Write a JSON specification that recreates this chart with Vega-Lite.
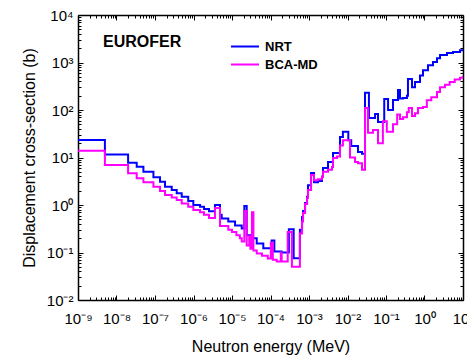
{
  "$schema": "https://vega.github.io/schema/vega-lite/v6.json",
  "width": 385,
  "height": 285,
  "autosize": {"type": "none"},
  "padding": {"left": 78, "top": 15, "right": 4, "bottom": 57},
  "config": {
    "font": "Liberation Sans",
    "view": {"stroke": null},
    "axis": {
      "grid": false,
      "domainColor": "black",
      "domainWidth": 1.5,
      "tickColor": "black",
      "tickWidth": 1,
      "labelColor": "black",
      "labelFont": "Liberation Sans",
      "labelFontSize": 15,
      "titleFont": "Liberation Sans",
      "titleFontSize": 16,
      "titleFontWeight": "normal",
      "titleColor": "black",
      "labelOverlap": false,
      "labelFlush": false
    }
  },
  "title": {
    "text": "EUROFER",
    "anchor": "start",
    "frame": "group",
    "orient": "top",
    "offset": 0,
    "baseline": "alphabetic",
    "dx": 25,
    "dy": 55,
    "font": "Liberation Sans",
    "fontSize": 16,
    "fontWeight": "bold",
    "color": "black"
  },
  "data": {
    "values": [
      {"E": 1e-9, "s": 23.4, "c": "NRT"},
      {"E": 5e-9, "s": 11.5, "c": "NRT"},
      {"E": 2e-8, "s": 7.8, "c": "NRT"},
      {"E": 3.35e-8, "s": 6.4, "c": "NRT"},
      {"E": 5e-8, "s": 5.0, "c": "NRT"},
      {"E": 9.1e-8, "s": 3.83, "c": "NRT"},
      {"E": 1.35e-7, "s": 3.1, "c": "NRT"},
      {"E": 1.82e-7, "s": 2.43, "c": "NRT"},
      {"E": 2.72e-7, "s": 2.07, "c": "NRT"},
      {"E": 3.66e-7, "s": 1.76, "c": "NRT"},
      {"E": 4.94e-7, "s": 1.5, "c": "NRT"},
      {"E": 7.3e-7, "s": 1.21, "c": "NRT"},
      {"E": 9.9e-7, "s": 1.0, "c": "NRT"},
      {"E": 1.48e-6, "s": 0.92, "c": "NRT"},
      {"E": 1.87e-6, "s": 0.82, "c": "NRT"},
      {"E": 2.53e-6, "s": 0.74, "c": "NRT"},
      {"E": 3.61e-6, "s": 1.0, "c": "NRT"},
      {"E": 4.88e-6, "s": 0.62, "c": "NRT"},
      {"E": 5.4e-6, "s": 0.52, "c": "NRT"},
      {"E": 8.0e-6, "s": 0.45, "c": "NRT"},
      {"E": 1.2e-5, "s": 0.37, "c": "NRT"},
      {"E": 1.79e-5, "s": 0.32, "c": "NRT"},
      {"E": 2.09e-5, "s": 0.95, "c": "NRT"},
      {"E": 2.41e-5, "s": 0.23, "c": "NRT"},
      {"E": 3.25e-5, "s": 0.2, "c": "NRT"},
      {"E": 4.39e-5, "s": 0.155, "c": "NRT"},
      {"E": 6.5e-5, "s": 0.123, "c": "NRT"},
      {"E": 1.07e-4, "s": 0.18, "c": "NRT"},
      {"E": 1.26e-4, "s": 0.105, "c": "NRT"},
      {"E": 1.95e-4, "s": 0.1, "c": "NRT"},
      {"E": 3.0e-4, "s": 0.31, "c": "NRT"},
      {"E": 4.0e-4, "s": 0.076, "c": "NRT"},
      {"E": 5.8e-4, "s": 0.3, "c": "NRT"},
      {"E": 6.6e-4, "s": 0.56, "c": "NRT"},
      {"E": 7.0e-4, "s": 0.75, "c": "NRT"},
      {"E": 7.9e-4, "s": 1.1, "c": "NRT"},
      {"E": 8.9e-4, "s": 1.5, "c": "NRT"},
      {"E": 9.4e-4, "s": 2.6, "c": "NRT"},
      {"E": 1.13e-3, "s": 4.7, "c": "NRT"},
      {"E": 1.35e-3, "s": 3.0, "c": "NRT"},
      {"E": 1.71e-3, "s": 3.2, "c": "NRT"},
      {"E": 2.18e-3, "s": 4.0, "c": "NRT"},
      {"E": 2.31e-3, "s": 6.0, "c": "NRT"},
      {"E": 3.12e-3, "s": 8.0, "c": "NRT"},
      {"E": 4.2e-3, "s": 12.4, "c": "NRT"},
      {"E": 6.38e-3, "s": 27, "c": "NRT"},
      {"E": 7.6e-3, "s": 35, "c": "NRT"},
      {"E": 1.05e-2, "s": 23, "c": "NRT"},
      {"E": 1.25e-2, "s": 17.5, "c": "NRT"},
      {"E": 1.87e-2, "s": 13, "c": "NRT"},
      {"E": 2.38e-2, "s": 12, "c": "NRT"},
      {"E": 2.85e-2, "s": 231, "c": "NRT"},
      {"E": 3.6e-2, "s": 68, "c": "NRT"},
      {"E": 5.2e-2, "s": 82, "c": "NRT"},
      {"E": 6.2e-2, "s": 56, "c": "NRT"},
      {"E": 9.0e-2, "s": 170, "c": "NRT"},
      {"E": 0.113, "s": 100, "c": "NRT"},
      {"E": 0.152, "s": 163, "c": "NRT"},
      {"E": 0.205, "s": 263, "c": "NRT"},
      {"E": 0.231, "s": 175, "c": "NRT"},
      {"E": 0.277, "s": 178, "c": "NRT"},
      {"E": 0.35, "s": 200, "c": "NRT"},
      {"E": 0.372, "s": 450, "c": "NRT"},
      {"E": 0.473, "s": 300, "c": "NRT"},
      {"E": 0.566, "s": 390, "c": "NRT"},
      {"E": 0.764, "s": 530, "c": "NRT"},
      {"E": 0.914, "s": 690, "c": "NRT"},
      {"E": 1.23, "s": 880, "c": "NRT"},
      {"E": 1.66, "s": 1020, "c": "NRT"},
      {"E": 2.11, "s": 1230, "c": "NRT"},
      {"E": 2.53, "s": 1440, "c": "NRT"},
      {"E": 3.84, "s": 1580, "c": "NRT"},
      {"E": 5.5, "s": 1660, "c": "NRT"},
      {"E": 8.35, "s": 1820, "c": "NRT"},
      {"E": 10, "s": 1900, "c": "NRT"},
      {"E": 1e-9, "s": 13.9, "c": "BCA-MD"},
      {"E": 5e-9, "s": 6.95, "c": "BCA-MD"},
      {"E": 2e-8, "s": 4.65, "c": "BCA-MD"},
      {"E": 3.35e-8, "s": 3.64, "c": "BCA-MD"},
      {"E": 5e-8, "s": 3.0, "c": "BCA-MD"},
      {"E": 9.1e-8, "s": 2.43, "c": "BCA-MD"},
      {"E": 1.35e-7, "s": 1.97, "c": "BCA-MD"},
      {"E": 1.82e-7, "s": 1.62, "c": "BCA-MD"},
      {"E": 2.72e-7, "s": 1.43, "c": "BCA-MD"},
      {"E": 3.66e-7, "s": 1.27, "c": "BCA-MD"},
      {"E": 4.94e-7, "s": 1.08, "c": "BCA-MD"},
      {"E": 7.3e-7, "s": 0.92, "c": "BCA-MD"},
      {"E": 9.9e-7, "s": 0.785, "c": "BCA-MD"},
      {"E": 1.48e-6, "s": 0.70, "c": "BCA-MD"},
      {"E": 1.87e-6, "s": 0.62, "c": "BCA-MD"},
      {"E": 2.53e-6, "s": 0.53, "c": "BCA-MD"},
      {"E": 3.61e-6, "s": 0.86, "c": "BCA-MD"},
      {"E": 4.88e-6, "s": 0.36, "c": "BCA-MD"},
      {"E": 8.0e-6, "s": 0.3, "c": "BCA-MD"},
      {"E": 1.0e-5, "s": 0.27, "c": "BCA-MD"},
      {"E": 1.3e-5, "s": 0.23, "c": "BCA-MD"},
      {"E": 1.6e-5, "s": 0.2, "c": "BCA-MD"},
      {"E": 1.79e-5, "s": 0.17, "c": "BCA-MD"},
      {"E": 2.09e-5, "s": 0.75, "c": "BCA-MD"},
      {"E": 2.41e-5, "s": 0.14, "c": "BCA-MD"},
      {"E": 2.8e-5, "s": 0.22, "c": "BCA-MD"},
      {"E": 3.0e-5, "s": 0.12, "c": "BCA-MD"},
      {"E": 3.3e-5, "s": 0.7, "c": "BCA-MD"},
      {"E": 3.6e-5, "s": 0.11, "c": "BCA-MD"},
      {"E": 4.4e-5, "s": 0.095, "c": "BCA-MD"},
      {"E": 6.0e-5, "s": 0.085, "c": "BCA-MD"},
      {"E": 8.5e-5, "s": 0.075, "c": "BCA-MD"},
      {"E": 1.02e-4, "s": 0.16, "c": "BCA-MD"},
      {"E": 1.15e-4, "s": 0.07, "c": "BCA-MD"},
      {"E": 1.45e-4, "s": 0.065, "c": "BCA-MD"},
      {"E": 1.85e-4, "s": 0.1, "c": "BCA-MD"},
      {"E": 1.95e-4, "s": 0.065, "c": "BCA-MD"},
      {"E": 2.8e-4, "s": 0.27, "c": "BCA-MD"},
      {"E": 3.6e-4, "s": 0.05, "c": "BCA-MD"},
      {"E": 5.8e-4, "s": 0.25, "c": "BCA-MD"},
      {"E": 6.6e-4, "s": 0.45, "c": "BCA-MD"},
      {"E": 7.0e-4, "s": 0.68, "c": "BCA-MD"},
      {"E": 7.9e-4, "s": 1.05, "c": "BCA-MD"},
      {"E": 8.9e-4, "s": 1.4, "c": "BCA-MD"},
      {"E": 9.4e-4, "s": 2.07, "c": "BCA-MD"},
      {"E": 1.13e-3, "s": 4.3, "c": "BCA-MD"},
      {"E": 1.35e-3, "s": 3.3, "c": "BCA-MD"},
      {"E": 1.71e-3, "s": 3.5, "c": "BCA-MD"},
      {"E": 2.18e-3, "s": 3.9, "c": "BCA-MD"},
      {"E": 2.31e-3, "s": 5.0, "c": "BCA-MD"},
      {"E": 3.12e-3, "s": 5.5, "c": "BCA-MD"},
      {"E": 3.96e-3, "s": 6.3, "c": "BCA-MD"},
      {"E": 4.2e-3, "s": 9.8, "c": "BCA-MD"},
      {"E": 5.33e-3, "s": 10.5, "c": "BCA-MD"},
      {"E": 6.38e-3, "s": 18, "c": "BCA-MD"},
      {"E": 7.6e-3, "s": 23, "c": "BCA-MD"},
      {"E": 1.16e-2, "s": 10, "c": "BCA-MD"},
      {"E": 1.57e-2, "s": 8, "c": "BCA-MD"},
      {"E": 1.87e-2, "s": 7.6, "c": "BCA-MD"},
      {"E": 2.38e-2, "s": 5.5, "c": "BCA-MD"},
      {"E": 2.85e-2, "s": 110, "c": "BCA-MD"},
      {"E": 3.4e-2, "s": 33, "c": "BCA-MD"},
      {"E": 4.6e-2, "s": 38, "c": "BCA-MD"},
      {"E": 6.2e-2, "s": 20, "c": "BCA-MD"},
      {"E": 8.3e-2, "s": 58, "c": "BCA-MD"},
      {"E": 0.105, "s": 35, "c": "BCA-MD"},
      {"E": 0.152, "s": 50, "c": "BCA-MD"},
      {"E": 0.195, "s": 80, "c": "BCA-MD"},
      {"E": 0.231, "s": 65, "c": "BCA-MD"},
      {"E": 0.277, "s": 70, "c": "BCA-MD"},
      {"E": 0.35, "s": 90, "c": "BCA-MD"},
      {"E": 0.39, "s": 110, "c": "BCA-MD"},
      {"E": 0.473, "s": 75, "c": "BCA-MD"},
      {"E": 0.566, "s": 85, "c": "BCA-MD"},
      {"E": 0.677, "s": 110, "c": "BCA-MD"},
      {"E": 0.914, "s": 115, "c": "BCA-MD"},
      {"E": 1.15, "s": 160, "c": "BCA-MD"},
      {"E": 1.5, "s": 186, "c": "BCA-MD"},
      {"E": 2.11, "s": 240, "c": "BCA-MD"},
      {"E": 2.53, "s": 300, "c": "BCA-MD"},
      {"E": 3.4, "s": 340, "c": "BCA-MD"},
      {"E": 4.5, "s": 390, "c": "BCA-MD"},
      {"E": 6.1, "s": 440, "c": "BCA-MD"},
      {"E": 8.35, "s": 480, "c": "BCA-MD"},
      {"E": 10, "s": 520, "c": "BCA-MD"}
    ]
  },
  "resolve": {"axis": {"x": "independent", "y": "independent"}},
  "layer": [
    {
      "transform": [{"filter": "datum.c === 'NRT'"}],
      "mark": {"type": "line", "interpolate": "step-after", "strokeWidth": 2, "clip": true},
      "encoding": {
        "x": {
          "field": "E", "type": "quantitative",
          "scale": {"type": "log", "domain": [1e-9, 10], "nice": false},
          "axis": {
            "orient": "bottom",
            "title": "Neutron energy (MeV)",
            "titlePadding": 10,
            "labelPadding": 16,
            "values": [1e-9,2e-9,3e-9,4e-9,5e-9,6e-9,7e-9,8e-9,9e-9,1e-8,2e-8,3e-8,4e-8,5e-8,6e-8,7e-8,8e-8,9e-8,1e-7,2e-7,3e-7,4e-7,5e-7,6e-7,7e-7,8e-7,9e-7,1e-6,2e-6,3e-6,4e-6,5e-6,6e-6,7e-6,8e-6,9e-6,1e-5,2e-5,3e-5,4e-5,5e-5,6e-5,7e-5,8e-5,9e-5,1e-4,2e-4,3e-4,4e-4,5e-4,6e-4,7e-4,8e-4,9e-4,1e-3,2e-3,3e-3,4e-3,5e-3,6e-3,7e-3,8e-3,9e-3,1e-2,2e-2,3e-2,4e-2,5e-2,6e-2,7e-2,8e-2,9e-2,0.1,0.2,0.3,0.4,0.5,0.6,0.7,0.8,0.9,1,2,3,4,5,6,7,8,9,10],
            "tickSize": {"condition": {"test": "abs(log(datum.value)/LN10 - round(log(datum.value)/LN10)) < 0.01", "value": -5}, "value": -3},
            "labelExpr": "abs(log(datum.value)/LN10 - round(log(datum.value)/LN10)) < 0.01 ? '10' + (round(log(datum.value)/LN10) < 0 ? '⁻' : '') + ['⁰','¹','²','³','⁴','⁵','⁶','⁷','⁸','⁹'][abs(round(log(datum.value)/LN10))] : ''"
          }
        },
        "y": {
          "field": "s", "type": "quantitative",
          "scale": {"type": "log", "domain": [0.01, 10000], "nice": false},
          "axis": {
            "orient": "left",
            "title": "Displacement cross-section (b)",
            "titlePadding": 9,
            "labelPadding": 10,
            "values": [0.01,0.02,0.03,0.04,0.05,0.06,0.07,0.08,0.09,0.1,0.2,0.3,0.4,0.5,0.6,0.7,0.8,0.9,1,2,3,4,5,6,7,8,9,10,20,30,40,50,60,70,80,90,100,200,300,400,500,600,700,800,900,1000,2000,3000,4000,5000,6000,7000,8000,9000,10000],
            "tickSize": {"condition": {"test": "abs(log(datum.value)/LN10 - round(log(datum.value)/LN10)) < 0.01", "value": -5}, "value": -3},
            "labelExpr": "abs(log(datum.value)/LN10 - round(log(datum.value)/LN10)) < 0.01 ? '10' + (round(log(datum.value)/LN10) < 0 ? '⁻' : '') + ['⁰','¹','²','³','⁴','⁵','⁶','⁷','⁸','⁹'][abs(round(log(datum.value)/LN10))] : ''"
          }
        },
        "color": {
          "field": "c", "type": "nominal",
          "scale": {"domain": ["NRT", "BCA-MD"], "range": ["#0000ff", "#ff00ff"]},
          "legend": {
            "title": null,
            "orient": "none",
            "legendX": 152,
            "legendY": 25,
            "symbolType": "stroke",
            "symbolSize": 784,
            "symbolStrokeWidth": 2,
            "clipHeight": 13,
            "labelFont": "Liberation Sans",
            "labelFontSize": 13,
            "labelFontWeight": "bold",
            "labelColor": "black",
            "labelOffset": 5,
            "rowPadding": 4
          }
        }
      }
    },
    {
      "transform": [{"filter": "datum.c === 'BCA-MD'"}],
      "mark": {"type": "line", "interpolate": "step-after", "strokeWidth": 2, "clip": true},
      "encoding": {
        "x": {
          "field": "E", "type": "quantitative",
          "scale": {"type": "log", "domain": [1e-9, 10], "nice": false},
          "axis": {
            "orient": "top",
            "title": null,
            "labels": false,
            "values": [1e-9,2e-9,3e-9,4e-9,5e-9,6e-9,7e-9,8e-9,9e-9,1e-8,2e-8,3e-8,4e-8,5e-8,6e-8,7e-8,8e-8,9e-8,1e-7,2e-7,3e-7,4e-7,5e-7,6e-7,7e-7,8e-7,9e-7,1e-6,2e-6,3e-6,4e-6,5e-6,6e-6,7e-6,8e-6,9e-6,1e-5,2e-5,3e-5,4e-5,5e-5,6e-5,7e-5,8e-5,9e-5,1e-4,2e-4,3e-4,4e-4,5e-4,6e-4,7e-4,8e-4,9e-4,1e-3,2e-3,3e-3,4e-3,5e-3,6e-3,7e-3,8e-3,9e-3,1e-2,2e-2,3e-2,4e-2,5e-2,6e-2,7e-2,8e-2,9e-2,0.1,0.2,0.3,0.4,0.5,0.6,0.7,0.8,0.9,1,2,3,4,5,6,7,8,9,10],
            "tickSize": {"condition": {"test": "abs(log(datum.value)/LN10 - round(log(datum.value)/LN10)) < 0.01", "value": -5}, "value": -3}
          }
        },
        "y": {
          "field": "s", "type": "quantitative",
          "scale": {"type": "log", "domain": [0.01, 10000], "nice": false},
          "axis": {
            "orient": "right",
            "title": null,
            "labels": false,
            "values": [0.01,0.02,0.03,0.04,0.05,0.06,0.07,0.08,0.09,0.1,0.2,0.3,0.4,0.5,0.6,0.7,0.8,0.9,1,2,3,4,5,6,7,8,9,10,20,30,40,50,60,70,80,90,100,200,300,400,500,600,700,800,900,1000,2000,3000,4000,5000,6000,7000,8000,9000,10000],
            "tickSize": {"condition": {"test": "abs(log(datum.value)/LN10 - round(log(datum.value)/LN10)) < 0.01", "value": -5}, "value": -3}
          }
        },
        "color": {
          "field": "c", "type": "nominal",
          "scale": {"domain": ["NRT", "BCA-MD"], "range": ["#0000ff", "#ff00ff"]},
          "legend": {
            "title": null,
            "orient": "none",
            "legendX": 152,
            "legendY": 25,
            "symbolType": "stroke",
            "symbolSize": 784,
            "symbolStrokeWidth": 2,
            "clipHeight": 13,
            "labelFont": "Liberation Sans",
            "labelFontSize": 13,
            "labelFontWeight": "bold",
            "labelColor": "black",
            "labelOffset": 5,
            "rowPadding": 4
          }
        }
      }
    }
  ]
}
